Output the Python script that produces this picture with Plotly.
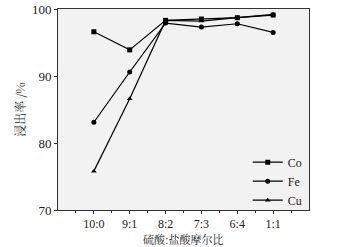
import plotly.graph_objects as go

categories = ["10:0", "9:1", "8:2", "7:3", "6:4", "1:1"]
co = [96.6, 93.9, 98.3, 98.5, 98.7, 99.1]
fe = [83.1, 90.6, 97.9, 97.3, 97.8, 96.5]
cu = [75.8, 86.6, 98.3, 98.2, 98.7, 99.2]
series = [("Co", co, "square"), ("Fe", fe, "circle"), ("Cu", cu, "triangle-up")]

x_idx = list(range(len(categories)))
fig = go.Figure()
for name, vals, sym in series:
    fig.add_trace(go.Scatter(x=x_idx, y=vals, name=name, mode="lines+markers",
                             line=dict(color="black", width=1.2),
                             marker=dict(symbol=sym, size=5, color="black")))

serif = "Liberation Serif"
cjk = "Noto Serif CJK SC, Noto Sans CJK SC"
fig.update_layout(
    width=338, height=247,
    margin=dict(l=58, r=29, t=9, b=37, autoexpand=False),
    paper_bgcolor="white", plot_bgcolor="#f2f2f2",
    font=dict(family=serif, size=13, color="#222"),
    showlegend=True,
    legend=dict(x=0.995, y=0.31, xanchor="right", yanchor="top",
                bgcolor="rgba(0,0,0,0)", font=dict(size=12, family=serif, color="#222"),
                tracegroupgap=0, itemwidth=30),
    xaxis=dict(range=[-1, 6], tickvals=x_idx, ticktext=categories,
               showgrid=False, zeroline=False, showline=True, linecolor="#333",
               mirror=True, ticks="outside", ticklen=3, tickcolor="#333",
               tickfont=dict(size=12, family=serif), ticklabelstandoff=0,
               minor=dict(tickvals=[i + 0.5 for i in range(-1, 6)], ticks="outside", ticklen=2, tickcolor="#333")),
    yaxis=dict(range=[70, 100], tickvals=[70, 80, 90, 100],
               showgrid=False, zeroline=False, showline=True, linecolor="#333",
               mirror=True, ticks="outside", ticklen=3, tickcolor="#333",
               tickfont=dict(size=13, family=serif),
               title=dict(text="浸出率 /%", standoff=3,
                          font=dict(family=cjk, size=12))),
    annotations=[dict(text="硫酸:盐酸摩尔比", xref="paper", yref="paper",
                      x=0.5, y=-0.145, xanchor="center", yanchor="middle",
                      showarrow=False, font=dict(family=cjk, size=11, color="#222"))],
)
fig.write_html("out.html", config={"displayModeBar": False},
               post_script="document.body.style.margin='0';document.body.style.overflow='hidden';")
